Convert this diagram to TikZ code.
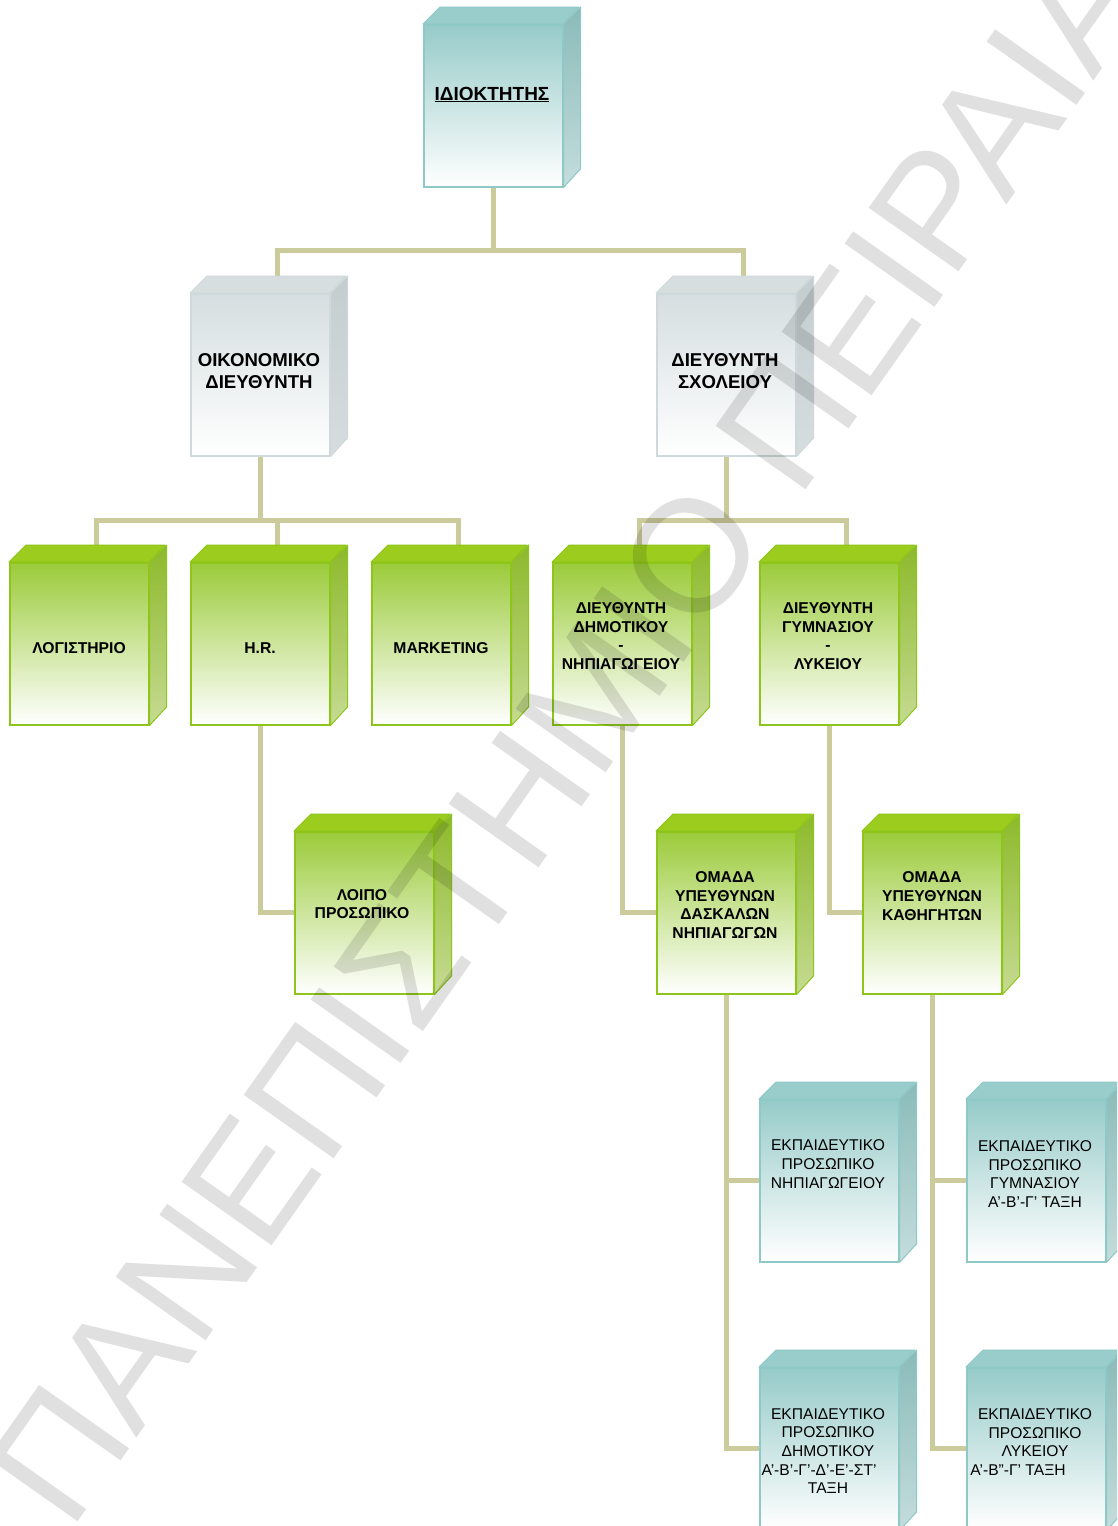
\documentclass[tikz,border=0pt]{standalone}
\usepackage{fontspec}
\setmainfont{Liberation Sans}
\usetikzlibrary{calc}

\definecolor{conncol}{RGB}{203,203,156}
\definecolor{tealedge}{RGB}{143,201,199}
\definecolor{tealtop}{RGB}{152,205,203}
\definecolor{tealfront}{RGB}{150,203,201}
\definecolor{tealsideA}{RGB}{138,187,185}
\definecolor{tealsideB}{RGB}{196,221,220}
\definecolor{grayedge}{RGB}{207,216,218}
\definecolor{graytop}{RGB}{214,222,224}
\definecolor{grayfront}{RGB}{213,222,224}
\definecolor{graysideA}{RGB}{195,205,208}
\definecolor{graysideB}{RGB}{214,221,223}
\definecolor{greenedge}{RGB}{141,197,26}
\definecolor{greentop}{RGB}{155,204,30}
\definecolor{greenfront}{RGB}{155,203,58}
\definecolor{greensideA}{RGB}{141,185,43}
\definecolor{greensideB}{RGB}{198,219,147}

\pgfdeclarelayer{back}
\pgfdeclarelayer{wires}
\pgfsetlayers{back,wires,main}

\tikzset{
  conn/.style={draw=conncol, line width=5pt},
  frontface/.style={anchor=north west, inner sep=0pt, minimum width=139pt, minimum height=162pt, line width=1.5pt},
  lab/.style={inner sep=0pt, align=center, text=black},
  labA/.style={lab, font=\fontsize{19}{22}\selectfont\bfseries},
  labB/.style={lab, font=\fontsize{18.6}{22.5}\selectfont\bfseries},
  labC/.style={lab, font=\fontsize{15.7}{18.6}\selectfont\bfseries},
  labD/.style={lab, font=\fontsize{15.6}{18.7}\selectfont},
}

% #1 name, #2 x, #3 y (pixels from top), #4 kind
\newcommand\cuboid[4]{%
  \node[frontface, draw=#4edge, top color=#4front, bottom color=white] (#1) at (#2,-#3) {};
  \filldraw[fill=#4top, draw=#4edge, line width=1pt, line join=round]
    (#1.north west) -- ++(17,17) -- ++(139,0) -- (#1.north east) -- cycle;
  \shade[top color=#4sideA, bottom color=#4sideB, draw=#4edge, line width=1pt, line join=round]
    (#1.north east) -- ++(17,17) -- ++(0,-162) -- (#1.south east) -- cycle;
}

\begin{document}
\begin{tikzpicture}[x=1pt,y=1pt]
\useasboundingbox (0,0) rectangle (1117,-1526);
\clip (0,0) rectangle (1117,-1526);
\begin{pgfonlayer}{back}
\fill[white] (0,0) rectangle (1117,-1526);
\end{pgfonlayer}

% boxes
\cuboid{own}{423}{24}{teal}
\cuboid{oik}{190}{293}{gray}
\cuboid{sch}{656}{293}{gray}
\cuboid{log}{9}{562}{green}
\cuboid{hr}{190}{562}{green}
\cuboid{mkt}{371}{562}{green}
\cuboid{dim}{552}{562}{green}
\cuboid{gym}{759}{562}{green}
\cuboid{lp}{294}{831}{green}
\cuboid{omd}{656}{831}{green}
\cuboid{omk}{862}{831}{green}
\cuboid{en}{759}{1099}{teal}
\cuboid{eg}{966}{1099}{teal}
\cuboid{ed}{759}{1367}{teal}
\cuboid{el}{966}{1367}{teal}

% connectors (behind the boxes)
\begin{pgfonlayer}{wires}
\draw[conn] (own.south) -- ++(0,-63) coordinate (j1);
\draw[conn] ($(oik.north)+(17,17)$) |- (j1) -| ($(sch.north)+(17,17)$);
\draw[conn] (oik.south) -- ++(0,-64) coordinate (j2);
\draw[conn] ($(log.north)+(17,17)$) |- (j2) -| ($(mkt.north)+(17,17)$);
\draw[conn] (j2) -| ($(hr.north)+(17,17)$);
\draw[conn] (sch.south) -- ++(0,-64) coordinate (j3);
\draw[conn] ($(dim.north)+(17,17)$) |- (j3) -| ($(gym.north)+(17,17)$);
\draw[conn] (hr.south) |- (lp.west);
\draw[conn] (dim.south) |- (omd.west);
\draw[conn] (gym.south) |- (omk.west);
\draw[conn] (omd.south) |- (en.west);
\draw[conn] (omd.south) |- (ed.west);
\draw[conn] (omk.south) |- (eg.west);
\draw[conn] (omk.south) |- (el.west);
\end{pgfonlayer}

% labels
\node[labA, anchor=base] (town) at (492,-100) {\underline{ΙΔΙΟΚΤΗΤΗΣ}};
\node[labB] (toik) at (259,-371) {ΟΙΚΟΝΟΜΙΚΟ\\ΔΙΕΥΘΥΝΤΗ};
\node[labB] (tsch) at (725,-371) {ΔΙΕΥΘΥΝΤΗ\\ΣΧΟΛΕΙΟΥ};
\node[labC, anchor=base] (tlog) at (79,-653) {ΛΟΓΙΣΤΗΡΙΟ};
\node[labC, anchor=base] (thr) at (260,-653) {H.R.};
\node[labC, anchor=base] (tmkt) at (441,-653) {MARKETING};
\node[labC] (tdim) at (621,-636) {ΔΙΕΥΘΥΝΤΗ\\ΔΗΜΟΤΙΚΟΥ\\-\\ΝΗΠΙΑΓΩΓΕΙΟΥ};
\node[labC] (tgym) at (828,-636) {ΔΙΕΥΘΥΝΤΗ\\ΓΥΜΝΑΣΙΟΥ\\-\\ΛΥΚΕΙΟΥ};
\node[labC] (tlp) at (362,-904) {ΛΟΙΠΟ\\ΠΡΟΣΩΠΙΚΟ};
\node[labC] (tomd) at (725,-905) {ΟΜΑΔΑ\\ΥΠΕΥΘΥΝΩΝ\\ΔΑΣΚΑΛΩΝ\\ΝΗΠΙΑΓΩΓΩΝ};
\node[labC] (tomk) at (932,-896) {ΟΜΑΔΑ\\ΥΠΕΥΘΥΝΩΝ\\ΚΑΘΗΓΗΤΩΝ};
\node[labD] (ten) at (828,-1164) {ΕΚΠΑΙΔΕΥΤΙΚΟ\\ΠΡΟΣΩΠΙΚΟ\\ΝΗΠΙΑΓΩΓΕΙΟΥ};
\node[labD] (teg) at (1035,-1174) {ΕΚΠΑΙΔΕΥΤΙΚΟ\\ΠΡΟΣΩΠΙΚΟ\\ΓΥΜΝΑΣΙΟΥ\\Α’-Β’-Γ’ ΤΑΞΗ};
\node[labD] (ted) at (828,-1451) {ΕΚΠΑΙΔΕΥΤΙΚΟ\\ΠΡΟΣΩΠΙΚΟ\\ΔΗΜΟΤΙΚΟΥ\\Α’-Β’-Γ’-Δ’-Ε’-ΣΤ’\hbox to 18pt{}\\ΤΑΞΗ};
\node[labD] (tel) at (1035,-1442) {ΕΚΠΑΙΔΕΥΤΙΚΟ\\ΠΡΟΣΩΠΙΚΟ\\ΛΥΚΕΙΟΥ\\Α’-Β”-Γ’ ΤΑΞΗ\hbox to 34pt{}};

% watermark
\node[rotate=54.8, anchor=base west, inner sep=0pt, text=black, text opacity=0.12,
      font=\fontsize{160}{190}\selectfont] (wm) at (70,-1533) {ΠΑΝΕΠΙΣΤΗΜΙΟ ΠΕΙΡΑΙΑ};
\end{tikzpicture}
\end{document}
